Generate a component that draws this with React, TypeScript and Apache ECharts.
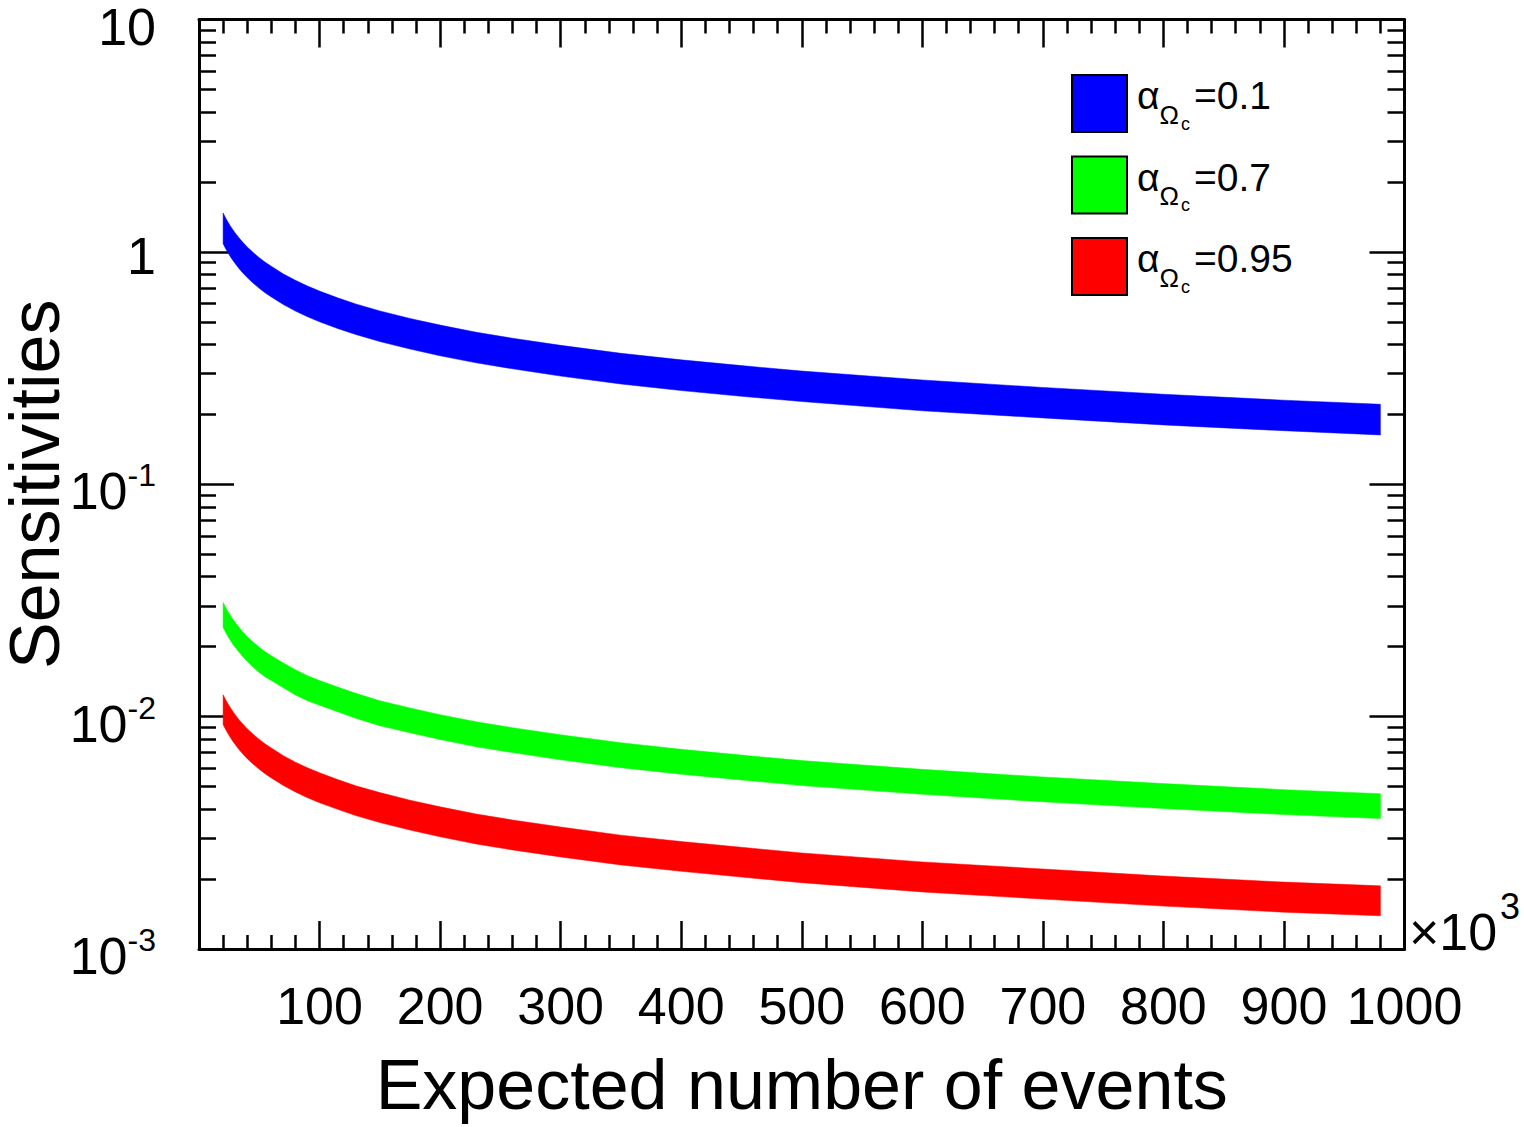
import { useEffect, useRef } from "react";
import * as echarts from "echarts";

// ---- data ----
const EVENTS = [20, 22, 24, 26, 28, 30, 33, 36, 40, 45, 50, 55, 60, 70, 80, 90, 100, 115, 130, 150, 175, 200, 230, 260, 300, 350, 400, 450, 500, 600, 700, 800, 900, 980];

const BLUE_UPPER = [1.47, 1.403, 1.344, 1.293, 1.248, 1.207, 1.152, 1.105, 1.05, 0.993, 0.944, 0.902, 0.867, 0.804, 0.754, 0.713, 0.678, 0.634, 0.597, 0.557, 0.517, 0.484, 0.451, 0.425, 0.396, 0.366, 0.343, 0.324, 0.307, 0.281, 0.261, 0.244, 0.23, 0.221];
const BLUE_LOWER = [1.085, 1.035, 0.992, 0.954, 0.921, 0.891, 0.85, 0.815, 0.775, 0.733, 0.697, 0.666, 0.64, 0.593, 0.556, 0.526, 0.5, 0.468, 0.441, 0.411, 0.382, 0.357, 0.333, 0.314, 0.292, 0.27, 0.253, 0.239, 0.227, 0.207, 0.193, 0.18, 0.17, 0.163];

const GREEN_UPPER = [0.031, 0.0296, 0.0283, 0.0273, 0.0263, 0.0255, 0.0243, 0.0233, 0.0221, 0.0209, 0.0199, 0.019, 0.0183, 0.017, 0.0159, 0.015, 0.0143, 0.0134, 0.0126, 0.0117, 0.0109, 0.0102, 0.0095, 0.00896, 0.00835, 0.00772, 0.00723, 0.00683, 0.00647, 0.00593, 0.0055, 0.00515, 0.00485, 0.00466];
const GREEN_LOWER = [0.0242, 0.0231, 0.0221, 0.0213, 0.0205, 0.0199, 0.019, 0.0182, 0.0173, 0.0163, 0.0155, 0.0148, 0.0143, 0.0133, 0.0124, 0.0117, 0.0112, 0.0105, 0.00984, 0.00914, 0.00852, 0.00797, 0.00742, 0.007, 0.00652, 0.00603, 0.00565, 0.00534, 0.00505, 0.00463, 0.0043, 0.00402, 0.00379, 0.00364];

const RED_UPPER = [0.01242, 0.01186, 0.01136, 0.01093, 0.01055, 0.0102, 0.00973, 0.00934, 0.00887, 0.00839, 0.00798, 0.00762, 0.00733, 0.00679, 0.00637, 0.00602, 0.00573, 0.00536, 0.00504, 0.00471, 0.00437, 0.00409, 0.00381, 0.00359, 0.00335, 0.00309, 0.0029, 0.00274, 0.00259, 0.00237, 0.00221, 0.00206, 0.00194, 0.00187];
const RED_LOWER = [0.00923, 0.00882, 0.00845, 0.00813, 0.00784, 0.00758, 0.00723, 0.00694, 0.00659, 0.00624, 0.00593, 0.00567, 0.00545, 0.00505, 0.00474, 0.00448, 0.00426, 0.00399, 0.00375, 0.0035, 0.00325, 0.00304, 0.00283, 0.00267, 0.00249, 0.0023, 0.00216, 0.00204, 0.00193, 0.00176, 0.00164, 0.00153, 0.00144, 0.00139];

const SERIES_NAMES = ["0.1", "0.7", "0.95"];
const SERIES_COLORS = ["#0000ff", "#00ff00", "#ff0000"];
const SERIES_LOWER = [BLUE_LOWER, GREEN_LOWER, RED_LOWER];
const SERIES_UPPER = [BLUE_UPPER, GREEN_UPPER, RED_UPPER];

const X_MIN = 0;
const X_MAX = 1000;
const X_STEP = 100;
const Y_DECADES = [0.001, 0.01, 0.1, 1, 10];
const Y_MINOR_STEPS = [2, 3, 4, 5, 6, 7, 8, 9];

const X_TITLE = "Expected number of events";
const Y_TITLE = "Sensitivities";

const FONT = '"Liberation Sans", Arial, Helvetica, sans-serif';

function bandSeries(idx: number) {
  const lower = SERIES_LOWER[idx];
  const upper = SERIES_UPPER[idx];
  const color = SERIES_COLORS[idx];
  return {
    type: "custom",
    name: SERIES_NAMES[idx],
    coordinateSystem: "cartesian2d",
    xAxisIndex: 0,
    yAxisIndex: 0,
    clip: true,
    itemStyle: { color },
    data: EVENTS.map((x, i) => [x, lower[i], upper[i]]),
    encode: { x: 0, y: [1, 2] },
    renderItem: (params: any, api: any) => {
      if (params.dataIndex !== 0) return null;
      const top = EVENTS.map((x, i) => api.coord([x, upper[i]]));
      const bottom = EVENTS.map((x, i) => api.coord([x, lower[i]])).reverse();
      return {
        type: "polygon",
        shape: { points: top.concat(bottom) },
        style: { fill: color, stroke: color, lineWidth: 0.5 },
      };
    },
  };
}

export default function App() {
  const ref = useRef<HTMLDivElement>(null);

  useEffect(() => {
    if (!ref.current) return;
    const chart = echarts.init(ref.current, undefined, { renderer: "svg" });

    const minorLogValues: number[] = [];
    Y_DECADES.slice(0, -1).forEach((d) => {
      const e = Math.round(Math.log10(d));
      Y_MINOR_STEPS.forEach((m) => minorLogValues.push(e + Math.log10(m)));
    });
    const logMin = Math.round(Math.log10(Y_DECADES[0]));
    const logMax = Math.round(Math.log10(Y_DECADES[Y_DECADES.length - 1]));

    const frameLine = { show: true, onZero: false, lineStyle: { color: "#000", width: 3 } };
    const noLine = { show: false, onZero: false };

    const xCommon = {
      type: "value",
      min: X_MIN,
      max: X_MAX,
      interval: X_STEP,
      axisLine: frameLine,
      axisTick: { show: true, inside: true, length: 28, lineStyle: { color: "#000", width: 2.5 } },
      minorTick: { show: true, splitNumber: 5, length: 14, lineStyle: { color: "#000", width: 2.5 } },
      splitLine: { show: false },
      minorSplitLine: { show: false },
    };

    const yMajor = {
      type: "log",
      logBase: 10,
      min: Y_DECADES[0],
      max: Y_DECADES[Y_DECADES.length - 1],
      axisLine: frameLine,
      axisTick: { show: true, inside: true, length: 35, lineStyle: { color: "#000", width: 2.5 } },
      splitLine: { show: false },
    };

    const yMinor = {
      type: "value",
      min: logMin,
      max: logMax,
      axisLine: noLine,
      axisTick: {
        show: true,
        inside: true,
        length: 17,
        customValues: minorLogValues,
        lineStyle: { color: "#000", width: 2.5 },
      },
      axisLabel: { show: false },
      splitLine: { show: false },
    };

    const option: any = {
      animation: false,
      backgroundColor: "#ffffff",
      textStyle: { fontFamily: FONT, color: "#000" },
      grid: {
        left: 199,
        right: 119.5,
        top: 19.5,
        bottom: 178,
        containLabel: false,
        outerBoundsMode: "none",
      },
      xAxis: [
        {
          ...xCommon,
          position: "bottom",
          name: X_TITLE,
          nameLocation: "middle",
          nameGap: 101,
          nameMoveOverlap: false,
          nameTextStyle: { fontSize: 70, color: "#000", fontFamily: FONT },
          axisLabel: {
            show: true,
            margin: 31,
            fontSize: 52,
            color: "#000",
            fontFamily: FONT,
            formatter: (v: number) => (v === X_MIN ? "" : String(v)),
          },
        },
        {
          ...xCommon,
          position: "top",
          axisLabel: { show: false },
        },
      ],
      yAxis: [
        {
          ...yMajor,
          position: "left",
          name: Y_TITLE,
          nameLocation: "middle",
          nameGap: 135,
          nameMoveOverlap: false,
          nameTextStyle: { fontSize: 70, lineHeight: 58, color: "#000", fontFamily: FONT },
          axisLabel: {
            show: true,
            margin: 43,
            color: "#000",
            fontFamily: FONT,
            formatter: (v: number) => {
              const e = Math.round(Math.log10(v));
              if (e >= 1) return `{t|${Math.round(Math.pow(10, e))}}`;
              if (e === 0) return `{p|1}`;
              return `{b|10}{s|${e}}`;
            },
            rich: {
              t: { fontSize: 52, lineHeight: 30, padding: [14, 0, 0, 0], fontFamily: FONT, color: "#000" },
              p: { fontSize: 52, lineHeight: 30, padding: [8, 0, 0, 0], fontFamily: FONT, color: "#000" },
              b: { fontSize: 52, lineHeight: 66, verticalAlign: "bottom", fontFamily: FONT, color: "#000" },
              s: {
                fontSize: 32,
                lineHeight: 40,
                padding: [8, 0, 0, 0],
                verticalAlign: "top",
                fontFamily: FONT,
                color: "#000",
              },
            },
          },
        },
        { ...yMinor, position: "left" },
        { ...yMajor, position: "right", axisLabel: { show: false } },
        { ...yMinor, position: "right" },
      ],
      legend: {
        show: true,
        orient: "vertical",
        left: 1071,
        top: 73.5,
        padding: 0,
        itemWidth: 55,
        itemHeight: 57,
        itemGap: 22,
        selectedMode: false,
        itemStyle: { borderColor: "#000", borderWidth: 2 },
        data: SERIES_NAMES.map((n, i) => ({
          name: n,
          icon: "rect",
          itemStyle: { color: SERIES_COLORS[i], borderColor: "#000", borderWidth: 2 },
        })),
        formatter: (name: string) => `{a|α}{o|Ω}{c|c}{v|=${name}}`,
        textStyle: {
          color: "#000",
          fontFamily: FONT,
          rich: {
            a: { fontSize: 39, lineHeight: 44, verticalAlign: "top", padding: [2.5, 0, 0, 5], fontFamily: FONT, color: "#000" },
            o: { fontSize: 26, lineHeight: 30, verticalAlign: "top", padding: [28, 0, 0, 0], fontFamily: FONT, color: "#000" },
            c: { fontSize: 18, lineHeight: 60, verticalAlign: "top", padding: [41, 0, 0, 2], fontFamily: FONT, color: "#000" },
            v: { fontSize: 39, lineHeight: 44, verticalAlign: "top", padding: [2.5, 0, 0, 4], fontFamily: FONT, color: "#000" },
          },
        },
      },
      graphic: [
        {
          type: "text",
          left: 1409,
          top: 906,
          style: { text: "×10", font: `52px ${FONT}`, fill: "#000" },
          silent: true,
        },
        {
          type: "text",
          left: 1500,
          top: 888,
          style: { text: "3", font: `36px ${FONT}`, fill: "#000" },
          silent: true,
        },
      ],
      series: SERIES_NAMES.map((_, i) => bandSeries(i)),
    };

    chart.setOption(option);
    return () => chart.dispose();
  }, []);

  return (
    <div
      ref={ref}
      style={{ position: "fixed", left: 0, top: 0, width: 1524, height: 1127, background: "#fff" }}
    />
  );
}
